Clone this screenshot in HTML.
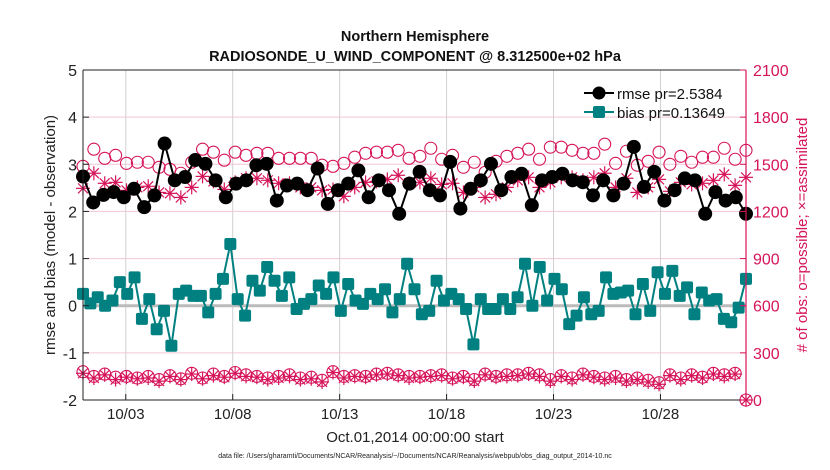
<!DOCTYPE html>
<html><head><meta charset="utf-8"><style>
html,body{margin:0;padding:0;background:#fff;}
svg{display:block;font-family:"Liberation Sans",sans-serif;}
</style></head><body>
<svg id="chart" width="830" height="470" viewBox="0 0 830 470" xmlns="http://www.w3.org/2000/svg">
<g>
<text x="415" y="41" text-anchor="middle" font-size="14.5" font-weight="bold" fill="#111">Northern Hemisphere</text>
<text x="415" y="61" text-anchor="middle" font-size="14.5" font-weight="bold" fill="#111">RADIOSONDE_U_WIND_COMPONENT @ 8.312500e+02 hPa</text>
</g>
<g id="grid"></g>
<g id="series"></g>
<g id="axes"></g>
<g>
<line x1="584" y1="93" x2="614" y2="93" stroke="#000" stroke-width="2"/>
<circle cx="599" cy="93" r="6.5" fill="#000"/>
<text x="617" y="99" font-size="15" fill="#111">rmse pr=2.5384</text>
<line x1="584" y1="112" x2="614" y2="112" stroke="#008080" stroke-width="2"/>
<rect x="593" y="106" width="12" height="12" rx="2" fill="#008080"/>
<text x="617" y="118" font-size="15" fill="#111">bias pr=0.13649</text>
</g>
<text x="415" y="442" text-anchor="middle" font-size="15" fill="#222">Oct.01,2014 00:00:00 start</text>
<text x="415" y="458" text-anchor="middle" font-size="7" fill="#222">data file: /Users/gharamti/Documents/NCAR/Reanalysis/~/Documents/NCAR/Reanalysis/webpub/obs_diag_output_2014-10.nc</text>
<text transform="translate(55,235) rotate(-90)" text-anchor="middle" font-size="15" fill="#222">rmse and bias (model - observation)</text>
<text transform="translate(807,235) rotate(-90)" text-anchor="middle" font-size="15" fill="#d6145a"># of obs: o=possible; ×=assimilated</text>
</svg>
<script>
const leftTicks = [-2,-1,0,1,2,3,4,5];
const rightTicks = [0,300,600,900,1200,1500,1800,2100];
const dateTicks = [3,8,13,18,23,28];
const dateLabels = ["10/03","10/08","10/13","10/18","10/23","10/28"];
const rmse = [2.74,2.19,2.35,2.41,2.30,2.48,2.09,2.34,3.44,2.66,2.73,3.09,3.01,2.66,2.30,2.59,2.66,2.98,3.01,2.23,2.55,2.59,2.45,2.91,2.16,2.45,2.59,2.87,2.30,2.66,2.45,1.95,2.59,2.84,2.45,2.34,3.05,2.06,2.48,2.66,3.01,2.45,2.73,2.80,2.13,2.66,2.73,2.80,2.66,2.62,2.34,2.66,2.34,2.59,3.37,2.52,2.84,2.23,2.45,2.70,2.66,1.95,2.41,2.23,2.30,1.95];
const bias = [0.25,0.05,0.18,0,0.11,0.50,0.25,0.60,-0.28,0.14,-0.50,-0.11,-0.85,0.25,0.32,0.21,0.21,-0.14,0.25,0.57,1.31,0.14,-0.21,0.53,0.32,0.82,0.53,0.21,0.60,-0.07,0.04,0.14,0.43,0.25,0.60,-0.11,0.46,0.11,0.04,0.25,0.14,0.35,-0.14,0.14,0.89,0.35,-0.18,-0.11,0.53,0.11,0.25,0.14,-0.07,-0.82,0.14,-0.07,-0.07,0.14,-0.07,0.18,0.89,0,0.82,0.11,0.57,0.35,-0.39,-0.21,0.18,-0.18,-0.11,0.60,0.25,0.28,0.32,-0.18,0.46,-0.11,0.71,0.25,0.74,0.21,0.39,-0.18,0.28,0.11,0.14,-0.28,-0.35,-0.04,0.57];
const possible = [1487,1596,1538,1557,1506,1513,1513,1481,1468,1443,1513,1596,1577,1526,1577,1557,1570,1570,1538,1538,1538,1538,1494,1487,1506,1545,1570,1577,1577,1589,1538,1551,1602,1532,1557,1481,1513,1449,1519,1551,1570,1596,1532,1609,1609,1589,1570,1570,1628,1506,1583,1494,1519,1577,1500,1551,1513,1545,1545,1602,1532,1589];
const assimilated = [1347,1443,1379,1385,1334,1353,1360,1321,1315,1289,1353,1423,1391,1340,1385,1411,1411,1398,1379,1379,1353,1353,1334,1340,1296,1353,1385,1391,1404,1430,1379,1385,1411,1372,1379,1321,1353,1289,1309,1353,1398,1417,1353,1385,1417,1417,1398,1417,1443,1353,1411,1321,1353,1404,1328,1385,1372,1379,1398,1436,1366,1417];
const possibleBottom = [180,150,165,145,150,140,150,130,155,135,170,140,165,150,175,160,150,140,150,160,140,145,125,180,150,155,150,165,170,160,150,150,155,160,140,150,130,165,150,160,160,170,160,130,155,140,165,150,140,150,130,140,125,110,160,140,160,145,170,160,170,0];
const assimilatedBottom = [170,140,160,130,145,135,140,120,150,130,165,135,155,145,170,150,145,130,140,150,130,135,115,175,140,150,145,160,165,155,140,145,150,155,135,145,120,160,145,150,155,165,150,120,150,130,160,145,130,140,120,130,115,100,155,130,155,140,165,150,165,0];

const svgNS="http://www.w3.org/2000/svg";
const L=83,R=746,T=70,B=400,D0=1,D1=32;
const xs=d=>L+(d-D0)/(D1-D0)*(R-L);
const yl=v=>B-(v+2)/7*(B-T);
const yr=v=>B-v/2100*(B-T);
const tAt=(i,n)=>D0+i*(D1-D0)/(n-1);
function mk(tag,attrs,parent){const e=document.createElementNS(svgNS,tag);for(const k in attrs)e.setAttribute(k,attrs[k]);parent.appendChild(e);return e;}
const grid=document.getElementById('grid'),axes=document.getElementById('axes'),ser=document.getElementById('series');
const PINK="#d6145a";
rightTicks.forEach(v=>{if(v>0&&v<2100){const g=mk('line',{x1:L,x2:R,y1:yr(v),y2:yr(v),stroke:"#f3c6d6","stroke-width":1},grid);}});
dateTicks.forEach(d=>{const g=mk('line',{x1:xs(d),x2:xs(d),y1:T,y2:B,stroke:"#d0d0d0","stroke-width":1},grid);});
const zl=mk('line',{x1:L,x2:R,y1:yl(0),y2:yl(0),stroke:"#bbbbbb","stroke-width":3},grid);



function star(cx,cy,s,parent){const g=mk('g',{stroke:PINK,"stroke-width":1.2},parent);
for(let k=0;k<4;k++){const a=k*Math.PI/4;mk('line',{x1:cx-s*Math.cos(a),y1:cy-s*Math.sin(a),x2:cx+s*Math.cos(a),y2:cy+s*Math.sin(a)},g);}return g;}
function obsSeries(arr,name,kind){const g=mk('g',{},ser);
arr.forEach((v,i)=>{const x=xs(tAt(i,arr.length)),y=yr(v);let m;
if(kind==='o'){m=mk('circle',{cx:x,cy:y,r:6,fill:"none",stroke:PINK,"stroke-width":1.1},g);}else{m=star(x,y,7,g);}

});}
obsSeries(possible,'possible-obs','o');
obsSeries(assimilated,'assimilated-obs','x');
obsSeries(possibleBottom,'possible-obs-low','o');
obsSeries(assimilatedBottom,'assimilated-obs-low','x');

function lineSeries(arr,name,color,kind){const g=mk('g',{},ser);
const pts=arr.map((v,i)=>[xs(tAt(i,arr.length)),yl(v)]);
const p=mk('polyline',{points:pts.map(p=>p.join(',')).join(' '),fill:"none",stroke:color,"stroke-width":2},g);


pts.forEach(([x,y])=>{let m;if(kind==='c')m=mk('circle',{cx:x,cy:y,r:7,fill:color},g);else m=mk('rect',{x:x-6,y:y-6,width:12,height:12,rx:2,fill:color},g);

});}
lineSeries(rmse,'rmse-series','#000','c');
lineSeries(bias,'bias-series','#008080','s');

// axes
mk('line',{x1:L,x2:R,y1:T,y2:T,stroke:"#222","stroke-width":1},axes);
mk('line',{x1:L,x2:R,y1:B,y2:B,stroke:"#222","stroke-width":1},axes);
mk('line',{x1:L,x2:L,y1:T,y2:B,stroke:"#222","stroke-width":1},axes);
mk('line',{x1:R,x2:R,y1:T,y2:B,stroke:PINK,"stroke-width":1.2},axes);
leftTicks.forEach(v=>{mk('line',{x1:L,x2:L+6,y1:yl(v),y2:yl(v),stroke:"#222"},axes);
const t=mk('text',{x:L-6,y:yl(v)+6,"text-anchor":"end","font-size":16,fill:"#222"},axes);t.textContent=v;

});
rightTicks.forEach(v=>{mk('line',{x1:R-6,x2:R,y1:yr(v),y2:yr(v),stroke:PINK},axes);
const t=mk('text',{x:R+7,y:yr(v)+6,"font-size":16,fill:PINK},axes);t.textContent=v;

});
dateTicks.forEach((d,i)=>{mk('line',{x1:xs(d),x2:xs(d),y1:B,y2:B-6,stroke:"#222"},axes);
const t=mk('text',{x:xs(d),y:B+19,"text-anchor":"middle","font-size":15,fill:"#222"},axes);t.textContent=dateLabels[i];

});
</script>
</body></html>
